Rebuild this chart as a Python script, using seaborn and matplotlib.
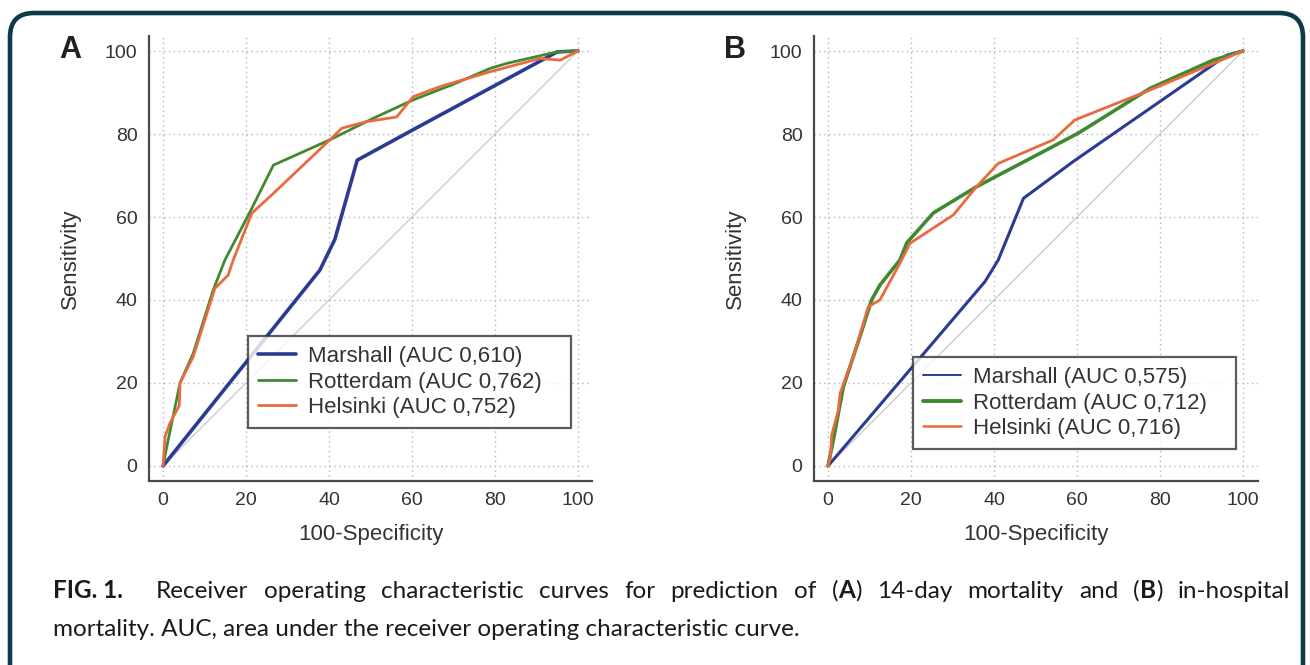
import matplotlib
matplotlib.use("Agg")
import matplotlib.pyplot as plt
import seaborn as sns
import pandas as pd
from matplotlib.patches import FancyBboxPatch
from matplotlib.ticker import MultipleLocator

sns.set_style("white")
plt.rcParams['font.family'] = ['Liberation Sans', 'DejaVu Sans']

# Panel A: 14-day mortality
a_marshall_x = [0, 37.8, 41.4, 43.5, 46.8, 60.2, 95.0, 100]
a_marshall_y = [0, 47.2, 54.6, 62.0, 73.7, 81.0, 99.8, 100]
a_rotterdam_x = [0, 0.9, 4.1, 7.3, 12.1, 14.9, 21.0, 26.6, 40.2, 50.7, 60.2, 70.0, 78.8, 82.8, 94.9, 100]
a_rotterdam_y = [0, 4.6, 20.0, 27.2, 42.4, 49.6, 61.3, 72.5, 78.6, 83.8, 88.2, 92.0, 95.8, 97.0, 99.8, 100]
a_helsinki_x = [0, 0.5, 1.7, 3.9, 4.1, 7.3, 12.5, 15.7, 16.9, 21.4, 26.6, 40.2, 43.1, 49.1, 56.3, 60.3, 66.7, 78.8, 90.8, 95.7, 100]
a_helsinki_y = [0, 7.1, 10.4, 14.5, 20.0, 26.4, 42.8, 46.0, 49.6, 60.9, 65.7, 78.6, 81.4, 83.0, 84.1, 89.0, 91.4, 95.0, 98.2, 97.8, 100]

# Panel B: in-hospital mortality
b_marshall_x = [0, 37.8, 41.0, 47.1, 59.0, 96.1, 100]
b_marshall_y = [0, 44.4, 49.6, 64.5, 73.3, 99.0, 100]
b_rotterdam_x = [0, 1.3, 3.7, 7.7, 10.5, 12.5, 17.3, 19.0, 25.4, 35.8, 60.3, 77.6, 92.8, 100]
b_rotterdam_y = [0, 6.4, 19.1, 31.2, 40.0, 43.6, 49.6, 53.8, 61.0, 67.3, 80.2, 91.0, 97.8, 100]
b_helsinki_x = [0, 0.6, 0.9, 2.5, 2.9, 6.1, 9.7, 12.5, 17.3, 19.8, 30.2, 35.8, 41.0, 54.3, 59.5, 77.6, 100]
b_helsinki_y = [0, 2.3, 7.5, 13.5, 17.5, 26.3, 38.4, 40.0, 48.8, 53.7, 60.5, 67.3, 72.9, 78.6, 83.4, 90.6, 100]

diag_x = [0, 100]
diag_y = [0, 100]

labels_a = ["Marshall (AUC 0,610)", "Rotterdam (AUC 0,762)", "Helsinki (AUC 0,752)"]
labels_b = ["Marshall (AUC 0,575)", "Rotterdam (AUC 0,712)", "Helsinki (AUC 0,716)"]
colors = ["#2b3b93", "#3f8a30", "#ea6a40"]

# caption words; each word is a list of (text, weight) pieces
caption_line1 = [[("FIG. 1.", "bold")]] + \
    [[(w, "normal")] for w in "Receiver operating characteristic curves for prediction of".split()] + \
    [[("(", "normal"), ("A", "bold"), (")", "normal")]] + \
    [[(w, "normal")] for w in "14-day mortality and".split()] + \
    [[("(", "normal"), ("B", "bold"), (")", "normal")]] + \
    [[("in-hospital", "normal")]]
caption_line2 = "mortality. AUC, area under the receiver operating characteristic curve."

panels = [
    ("A", [(a_marshall_x, a_marshall_y), (a_rotterdam_x, a_rotterdam_y), (a_helsinki_x, a_helsinki_y)],
     labels_a, [2.6, 2.0, 2.0], [2.6, 2.0, 2.0], 148.5, 428),
    ("B", [(b_marshall_x, b_marshall_y), (b_rotterdam_x, b_rotterdam_y), (b_helsinki_x, b_helsinki_y)],
     labels_b, [2.2, 2.6, 2.0], [1.4, 2.8, 1.8], 813.5, 449),
]

W, H = 1310, 665
fig = plt.figure(figsize=(W / 100, H / 100), dpi=100)

# rounded frame around the figure (bottom edge runs off the image)
frame = FancyBboxPatch((10, -60), 1293, 712, boxstyle="round,pad=0,rounding_size=24",
                       transform=None, fill=False, edgecolor="#0d3c48", linewidth=3.3)
fig.patches.append(frame)

for letter, curves, labels, lws, leg_lws, left_px, leg_bottom in panels:
    ax = fig.add_axes([left_px / W, (H - 480.5) / H, 444 / W, 444 / H])
    sns.lineplot(x=diag_x, y=diag_y, ax=ax, color="#c8c8c8", linewidth=0.9)
    handles = []
    for (xs, ys), lab, col, lw, llw in zip(curves, labels, colors, lws, leg_lws):
        df = pd.DataFrame({"x": xs, "y": ys})
        sns.lineplot(data=df, x="x", y="y", ax=ax, sort=False, estimator=None,
                     color=col, linewidth=lw)
        handles.append(plt.Line2D([], [], color=col, linewidth=llw, label=lab))
    ax.set_xlim(-3.5, 103.5)
    ax.set_ylim(-3.5, 103.5)
    ax.xaxis.set_major_locator(MultipleLocator(20))
    ax.yaxis.set_major_locator(MultipleLocator(20))
    ax.xaxis.set_minor_locator(MultipleLocator(5))
    ax.yaxis.set_minor_locator(MultipleLocator(5))
    ax.grid(True, which="major", linestyle=(0, (1, 2.5)), color="#b5b5b5", linewidth=1.0)
    ax.set_axisbelow(True)
    for s in ["top", "right"]:
        ax.spines[s].set_visible(False)
    for s in ["left", "bottom"]:
        ax.spines[s].set_color("#4a4a4a")
        ax.spines[s].set_linewidth(1.6)
    ax.tick_params(which="major", direction="in", length=6, width=1.4, color="#4a4a4a",
                   labelsize=14, labelcolor="#333333", pad=8)
    ax.tick_params(which="minor", direction="in", length=3, width=1.0, color="#4a4a4a")
    ax.set_xlabel("100-Specificity", fontsize=16, color="#333333", labelpad=11)
    ax.set_ylabel("Sensitivity", fontsize=16, color="#333333", labelpad=17)
    leg_y = (480.5 - leg_bottom) / 444
    leg = ax.legend(handles=handles, loc="lower left", mode="expand",
                    bbox_to_anchor=(0.224, leg_y, 0.728, 0.2),
                    borderaxespad=0, fontsize=16, frameon=True, fancybox=False,
                    edgecolor="#333333", handlelength=1.7, handletextpad=0.55,
                    labelspacing=0.2, borderpad=0.45, labelcolor="#333333")
    leg.get_frame().set_linewidth(1.6)
    fig.text((left_px - 78) / W, 1 - 50 / H, letter, fontsize=22, fontweight="bold",
             color="#222222", ha="center", va="center")

# caption: first line is justified between x=53 and x=1290
cap_font = ["Lato", "DejaVu Sans"]
cap_size = 17.5
cap_color = "#1a1a1a"
renderer = fig.canvas.get_renderer()
left, right = 53, 1290
base1 = H - 598

placed = []
for word in caption_line1:
    parts = []
    for txt, wt in word:
        t = fig.text(0, 0, txt, fontsize=cap_size, fontweight=wt, family=cap_font,
                     color=cap_color, va="baseline", transform=None)
        parts.append((t, t.get_window_extent(renderer).width))
    placed.append(parts)
word_widths = [sum(w for _, w in parts) for parts in placed]
extra_first = 18
gap = (right - left - sum(word_widths) - extra_first) / (len(placed) - 1)
x = left
for i, parts in enumerate(placed):
    for t, w in parts:
        t.set_position((x, base1))
        x += w
    x += gap + (extra_first if i == 0 else 0)

fig.text(left / W, (H - 636) / H, caption_line2, fontsize=cap_size, family=cap_font,
         va="baseline", color=cap_color)

fig.savefig("out.png", dpi=100)
